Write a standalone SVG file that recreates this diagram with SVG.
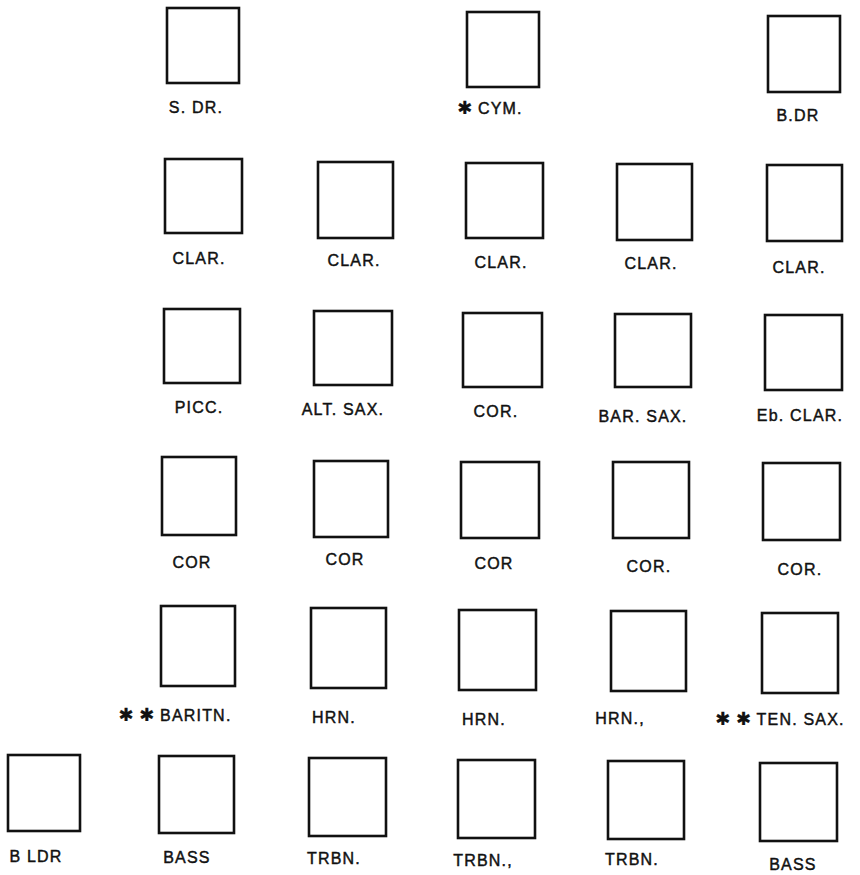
<svg xmlns="http://www.w3.org/2000/svg" width="860" height="875" viewBox="0 0 860 875">
<style>
rect.b{fill:none;stroke:#111;stroke-width:2.6}
text{font-family:"Liberation Sans",Arial,sans-serif;font-size:16px;fill:#111;stroke:#111;stroke-width:0.45;text-anchor:middle;letter-spacing:1.2px}
.s{font-family:"DejaVu Sans",sans-serif;font-size:18px;stroke-width:0.2;letter-spacing:0}
</style>
<rect width="860" height="875" fill="#fff"/>
<g id="connectors"></g>
<g id="sdr"><rect class="b" x="167" y="8" width="72" height="75"/><text x="196" y="113">S. DR.</text></g>
<g id="cym"><rect class="b" x="467" y="12" width="72" height="75"/><text x="490" y="114"><tspan class="s">✱</tspan> CYM.</text></g>
<g id="bdr"><rect class="b" x="768" y="16" width="72" height="76"/><text x="798" y="121">B.DR</text></g>

<g id="clar1"><rect class="b" x="165" y="159" width="77" height="74"/><text x="199" y="264">CLAR.</text></g>
<g id="clar2"><rect class="b" x="318" y="162" width="75" height="76"/><text x="354" y="266">CLAR.</text></g>
<g id="clar3"><rect class="b" x="466" y="163" width="77" height="75"/><text x="501" y="268">CLAR.</text></g>
<g id="clar4"><rect class="b" x="617" y="164" width="75" height="76"/><text x="651" y="269">CLAR.</text></g>
<g id="clar5"><rect class="b" x="767" y="165" width="75" height="76"/><text x="799" y="273">CLAR.</text></g>

<g id="picc"><rect class="b" x="164" y="309" width="76" height="74"/><text x="199" y="413">PICC.</text></g>
<g id="altsax"><rect class="b" x="314" y="311" width="78" height="74"/><text x="343" y="415">ALT. SAX.</text></g>
<g id="cor0"><rect class="b" x="463" y="313" width="79" height="74"/><text x="496" y="417">COR.</text></g>
<g id="barsax"><rect class="b" x="615" y="314" width="76" height="73"/><text x="643" y="422">BAR. SAX.</text></g>
<g id="ebclar"><rect class="b" x="765" y="315" width="77" height="75"/><text x="800" y="421">Eb. CLAR.</text></g>

<g id="cor1"><rect class="b" x="162" y="457" width="74" height="78"/><text x="192" y="568">COR</text></g>
<g id="cor2"><rect class="b" x="314" y="461" width="74" height="76"/><text x="345" y="565">COR</text></g>
<g id="cor3"><rect class="b" x="461" y="462" width="78" height="76"/><text x="494" y="569">COR</text></g>
<g id="cor4"><rect class="b" x="613" y="462" width="76" height="76"/><text x="649" y="572">COR.</text></g>
<g id="cor5"><rect class="b" x="763" y="463" width="77" height="77"/><text x="800" y="575">COR.</text></g>

<g id="baritn"><rect class="b" x="161" y="606" width="74" height="80"/><text x="175" y="721"><tspan class="s">✱ ✱</tspan> BARITN.</text></g>
<g id="hrn1"><rect class="b" x="311" y="608" width="75" height="80"/><text x="334" y="723">HRN.</text></g>
<g id="hrn2"><rect class="b" x="459" y="610" width="77" height="80"/><text x="484" y="725">HRN.</text></g>
<g id="hrn3"><rect class="b" x="611" y="611" width="75" height="80"/><text x="620" y="724">HRN.,</text></g>
<g id="tensax"><rect class="b" x="762" y="613" width="76" height="80"/><text x="780" y="725"><tspan class="s">✱ ✱</tspan> TEN. SAX.</text></g>

<g id="bldr"><rect class="b" x="8" y="755" width="72" height="76"/><text x="36" y="862">B LDR</text></g>
<g id="bass1"><rect class="b" x="159" y="756" width="75" height="77"/><text x="187" y="863">BASS</text></g>
<g id="trbn1"><rect class="b" x="309" y="758" width="77" height="78"/><text x="334" y="864">TRBN.</text></g>
<g id="trbn2"><rect class="b" x="458" y="760" width="77" height="78"/><text x="483" y="866">TRBN.,</text></g>
<g id="trbn3"><rect class="b" x="608" y="761" width="76" height="78"/><text x="632" y="865">TRBN.</text></g>
<g id="bass2"><rect class="b" x="760" y="763" width="77" height="78"/><text x="793" y="870">BASS</text></g>
</svg>
